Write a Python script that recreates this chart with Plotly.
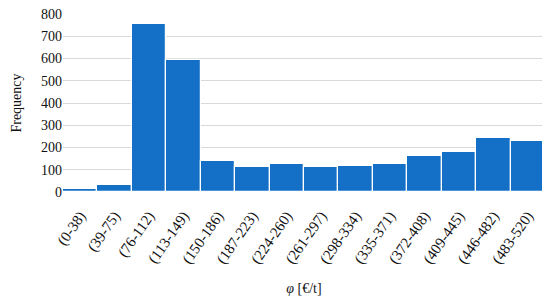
import plotly.graph_objects as go

# histogram classes of phi and their counts
classes = ["(0-38)", "(39-75)", "(76-112)", "(113-149)", "(150-186)", "(187-223)",
           "(224-260)", "(261-297)", "(298-334)", "(335-371)", "(372-408)",
           "(409-445)", "(446-482)", "(483-520)"]
counts = [15, 30, 755, 594, 140, 114, 124, 112, 118, 124, 161, 181, 243, 228]

serif = "Palatino Linotype, Book Antiqua, Liberation Serif, DejaVu Serif, serif"

fig = go.Figure(go.Bar(
    x=classes, y=counts,
    marker=dict(color="#1470c6", line=dict(color="white", width=1.2)),
))

# page body has an 8px margin, so margins are shifted by that
fig.update_layout(
    width=550, height=299,
    margin=dict(l=55, r=13, t=6, b=115, autoexpand=False),
    plot_bgcolor="white", paper_bgcolor="white",
    bargap=0, showlegend=False,
    font=dict(family=serif, size=14, color="#111"),
)
fig.update_xaxes(
    tickangle=-55, tickfont=dict(size=15), showgrid=False, automargin=False,
    ticks="outside", ticklen=8, tickcolor="rgba(0,0,0,0)",
    title=dict(text="<i>φ</i> [€/t]", font=dict(size=14), standoff=16),
)
fig.update_yaxes(
    range=[0, 800], dtick=100, gridcolor="#d9d9d9", gridwidth=1, automargin=False,
    zeroline=False, tickfont=dict(size=14), ticks="", ticklen=0,
    ticklabeloverflow="allow",
    title=dict(text="Frequency", font=dict(size=14), standoff=16),
)

fig.write_html("out.html")
